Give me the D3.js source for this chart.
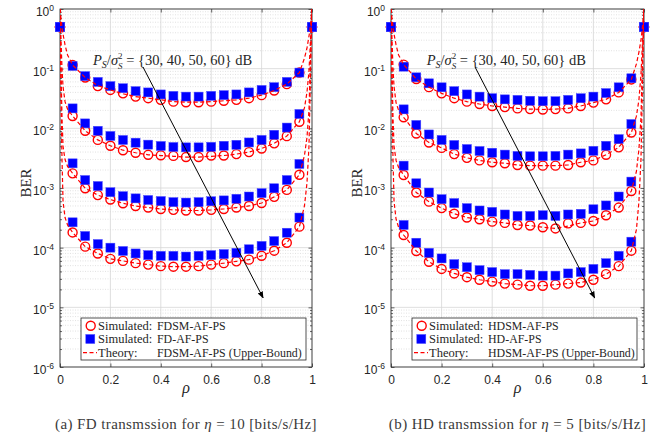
<!DOCTYPE html>
<html>
<head>
<meta charset="utf-8">
<script src="https://cdn.jsdelivr.net/npm/d3@7"></script>
<style>
  body { margin: 0; background: #fff; }
  svg { display: block; }
</style>
</head>
<body>
<div id="chart"></div>
<script>
// power splitting ratio used for the simulated points
const rho = [0, 0.05, 0.1, 0.15, 0.2, 0.25, 0.3, 0.35, 0.4, 0.45, 0.5,
             0.55, 0.6, 0.65, 0.7, 0.75, 0.8, 0.85, 0.9, 0.95, 1];

// finer grid for the theory (upper bound) curves
const thRho = [0, 0.004, 0.008, 0.012, 0.02, 0.03,
               0.05, 0.1, 0.15, 0.2, 0.25, 0.3, 0.35, 0.4, 0.45, 0.5,
               0.55, 0.6, 0.65, 0.7, 0.75, 0.8, 0.85, 0.9, 0.95,
               0.97, 0.98, 0.988, 0.992, 0.996, 1];

// ---- (a) FD, eta = 10 ----
const fdsm30 = [0.5, 0.115, 0.071, 0.051, 0.044, 0.0386, 0.034, 0.032, 0.030, 0.028, 0.0273, 0.0273, 0.028, 0.029, 0.030, 0.032, 0.036, 0.043, 0.055, 0.086, 0.5];
const fdsm40 = [0.5, 0.0161, 0.0091, 0.0064, 0.0051, 0.0043, 0.0039, 0.0036, 0.00353, 0.00345, 0.0033, 0.0033, 0.0035, 0.0035, 0.0037, 0.0040, 0.0046, 0.0056, 0.0074, 0.0129, 0.5];
const fdsm50 = [0.5, 0.00176, 0.00099, 0.00076, 0.00064, 0.000554, 0.0005, 0.00047, 0.000445, 0.00043, 0.00042, 0.00042, 0.00043, 0.000445, 0.00047, 0.0005, 0.00056, 0.00071, 0.00093, 0.00167, 0.5];
const fdsm60 = [0.5, 1.8e-4, 1.04e-4, 8.0e-5, 6.5e-5, 6.0e-5, 5.5e-5, 5.2e-5, 4.9e-5, 4.8e-5, 4.8e-5, 4.9e-5, 5.2e-5, 5.5e-5, 5.9e-5, 6.3e-5, 7.3e-5, 8.9e-5, 1.21e-4, 2.25e-4, 0.5];

const fd30 = [0.5, 0.111, 0.075, 0.060, 0.051, 0.047, 0.042, 0.040, 0.037, 0.035, 0.034, 0.034, 0.035, 0.036, 0.037, 0.040, 0.044, 0.049, 0.060, 0.086, 0.5];
const fd40 = [0.5, 0.0216, 0.0121, 0.0091, 0.00745, 0.00638, 0.00575, 0.00533, 0.00506, 0.00487, 0.0048, 0.0048, 0.0049, 0.0051, 0.0053, 0.0058, 0.0064, 0.0078, 0.0103, 0.0174, 0.5];
const fd50 = [0.5, 0.00259, 0.00136, 0.00108, 0.00085, 0.00073, 0.00067, 0.00063, 0.000605, 0.00058, 0.00057, 0.00058, 0.0006, 0.00062, 0.00066, 0.00072, 0.00082, 0.00099, 0.00136, 0.00253, 0.5];
const fd60 = [0.5, 2.66e-4, 1.57e-4, 1.15e-4, 1.0e-4, 8.8e-5, 8.0e-5, 7.5e-5, 7.3e-5, 7.3e-5, 7.1e-5, 7.3e-5, 7.5e-5, 7.8e-5, 8.2e-5, 9.4e-5, 1.07e-4, 1.29e-4, 1.78e-4, 3.2e-4, 0.5];

const fdsmTh30 = [1, 0.7, 0.5, 0.38, 0.25, 0.17, 0.115, 0.071, 0.052, 0.044, 0.038, 0.034, 0.032, 0.030, 0.028, 0.0275, 0.0275, 0.028, 0.029, 0.030, 0.032, 0.036, 0.043, 0.055, 0.086, 0.15, 0.22, 0.35, 0.45, 0.65, 1];
const fdsmTh40 = [1, 0.3, 0.1, 0.05, 0.028, 0.021, 0.0161, 0.0091, 0.0064, 0.0051, 0.0043, 0.0039, 0.0036, 0.0035, 0.0034, 0.0033, 0.0033, 0.0034, 0.0035, 0.0037, 0.0040, 0.0046, 0.0056, 0.0074, 0.0129, 0.022, 0.04, 0.09, 0.2, 0.45, 1];
const fdsmTh50 = [1, 0.1, 0.015, 0.005, 0.003, 0.0023, 0.00176, 0.00099, 0.00076, 0.00064, 0.000554, 0.0005, 0.00047, 0.000445, 0.00043, 0.00042, 0.00042, 0.00043, 0.000445, 0.00047, 0.0005, 0.00056, 0.00071, 0.00093, 0.00167, 0.0035, 0.007, 0.02, 0.08, 0.3, 1];
const fdsmTh60 = [1, 0.03, 0.003, 0.0006, 0.00032, 0.00024, 1.8e-4, 1.04e-4, 8.0e-5, 6.5e-5, 6.0e-5, 5.5e-5, 5.2e-5, 4.9e-5, 4.8e-5, 4.8e-5, 4.9e-5, 5.2e-5, 5.5e-5, 5.9e-5, 6.3e-5, 7.3e-5, 8.9e-5, 1.21e-4, 2.25e-4, 0.0005, 0.0012, 0.005, 0.03, 0.2, 1];

// ---- (b) HD, eta = 5 ----
const hdsm30 = [0.5, 0.117, 0.067, 0.049, 0.0386, 0.032, 0.028, 0.0256, 0.0237, 0.0227, 0.0216, 0.021, 0.0207, 0.021, 0.0216, 0.0237, 0.027, 0.0306, 0.040, 0.066, 0.5];
const hdsm40 = [0.5, 0.0153, 0.0082, 0.0058, 0.0047, 0.0037, 0.0032, 0.0029, 0.0027, 0.0026, 0.00243, 0.00237, 0.00237, 0.00237, 0.00243, 0.0027, 0.0029, 0.0036, 0.0048, 0.0085, 0.5];
const hdsm50 = [0.5, 0.00165, 0.00084, 0.00059, 0.00046, 0.00037, 0.00032, 0.0003, 0.000273, 0.00026, 0.00024, 0.000235, 0.00022, 0.00021, 0.000255, 0.00026, 0.00028, 0.00035, 0.00047, 0.00089, 0.5];
const hdsm60 = [0.5, 1.63e-4, 8.8e-5, 5.8e-5, 4.4e-5, 3.7e-5, 3.2e-5, 2.9e-5, 2.7e-5, 2.5e-5, 2.4e-5, 2.3e-5, 2.3e-5, 2.4e-5, 2.5e-5, 2.6e-5, 2.9e-5, 3.6e-5, 4.9e-5, 8.9e-5, 0.5];

const hd30 = [0.5, 0.108, 0.0716, 0.0568, 0.0487, 0.042, 0.037, 0.034, 0.032, 0.0306, 0.030, 0.029, 0.0285, 0.0285, 0.030, 0.032, 0.034, 0.039, 0.0487, 0.069, 0.5];
const hd40 = [0.5, 0.0208, 0.0114, 0.0079, 0.0064, 0.00526, 0.0045, 0.00417, 0.0039, 0.00363, 0.00345, 0.0034, 0.0034, 0.00345, 0.00363, 0.0038, 0.0042, 0.0051, 0.0066, 0.0118, 0.5];
const hd50 = [0.5, 0.00237, 0.0012, 0.00084, 0.00065, 0.00056, 0.00046, 0.00042, 0.000398, 0.00036, 0.00034, 0.00034, 0.00035, 0.00034, 0.00036, 0.00037, 0.00044, 0.00051, 0.00072, 0.00128, 0.5];
const hd60 = [0.5, 2.4e-4, 1.21e-4, 8.2e-5, 6.6e-5, 5.3e-5, 4.7e-5, 4.2e-5, 3.9e-5, 3.6e-5, 3.6e-5, 3.5e-5, 3.4e-5, 3.4e-5, 3.7e-5, 3.9e-5, 4.4e-5, 5.5e-5, 7.3e-5, 1.26e-4, 0.5];

const hdsmTh30 = [1, 0.7, 0.5, 0.38, 0.25, 0.17, 0.117, 0.067, 0.049, 0.0386, 0.032, 0.028, 0.0256, 0.0237, 0.0227, 0.0216, 0.021, 0.0207, 0.021, 0.0216, 0.0237, 0.027, 0.0306, 0.040, 0.066, 0.12, 0.19, 0.3, 0.42, 0.62, 1];
const hdsmTh40 = [1, 0.3, 0.1, 0.05, 0.027, 0.02, 0.0153, 0.0082, 0.0058, 0.0047, 0.0037, 0.0032, 0.0029, 0.0027, 0.0026, 0.00243, 0.00237, 0.00237, 0.00237, 0.00243, 0.0027, 0.0029, 0.0036, 0.0048, 0.0085, 0.016, 0.03, 0.08, 0.18, 0.42, 1];
const hdsmTh50 = [1, 0.1, 0.015, 0.005, 0.0029, 0.0022, 0.00165, 0.00084, 0.00059, 0.00046, 0.00037, 0.00032, 0.0003, 0.000273, 0.00026, 0.00024, 0.000235, 0.00022, 0.00021, 0.00023, 0.00026, 0.00028, 0.00035, 0.00047, 0.00089, 0.0019, 0.0045, 0.015, 0.07, 0.28, 1];
const hdsmTh60 = [1, 0.03, 0.003, 0.0006, 0.0003, 0.00022, 1.63e-4, 8.8e-5, 5.8e-5, 4.4e-5, 3.7e-5, 3.2e-5, 2.9e-5, 2.7e-5, 2.5e-5, 2.4e-5, 2.3e-5, 2.3e-5, 2.4e-5, 2.5e-5, 2.6e-5, 2.9e-5, 3.6e-5, 4.9e-5, 8.9e-5, 0.0002, 0.0006, 0.003, 0.02, 0.18, 1];

const xTicks = [0, 0.2, 0.4, 0.6, 0.8, 1];
const decades = [-6, -5, -4, -3, -2, -1, 0];

const serif = "'Liberation Serif', 'Times New Roman', serif";
const sans = "'Liberation Sans', Arial, Helvetica, sans-serif";

const panels = [
  {
    left: 60, right: 312,
    circles: [fdsm30, fdsm40, fdsm50, fdsm60],
    squares: [fd30, fd40, fd50, fd60],
    theory: [fdsmTh30, fdsmTh40, fdsmTh50, fdsmTh60],
    names: ["FDSM-AF-PS", "FD-AF-PS", "FDSM-AF-PS (Upper-Bound)"],
    caption: ["(a) FD transmssion for ", "η", " = 10 [bits/s/Hz]"],
    annot: [0.131, 0.115],
    arrow: [[0.329, 0.107], [0.806, 1.44e-5]]
  },
  {
    left: 391, right: 644,
    circles: [hdsm30, hdsm40, hdsm50, hdsm60],
    squares: [hd30, hd40, hd50, hd60],
    theory: [hdsmTh30, hdsmTh40, hdsmTh50, hdsmTh60],
    names: ["HDSM-AF-PS", "HD-AF-PS", "HDSM-AF-PS (Upper-Bound)"],
    caption: ["(b) HD transmssion for ", "η", " = 5 [bits/s/Hz]"],
    annot: [0.141, 0.115],
    arrow: [[0.332, 0.107], [0.805, 1.44e-5]]
  }
];

const plotTop = 9, plotBottom = 367;

const svg = d3.select("#chart")
  .append("svg")
    .attr("width", 659)
    .attr("height", 443);

const defs = svg.append("defs");
defs.append("marker")
    .attr("id", "arrowhead")
    .attr("viewBox", "0 0 10 10")
    .attr("refX", 9).attr("refY", 5)
    .attr("markerWidth", 7).attr("markerHeight", 7)
    .attr("markerUnits", "userSpaceOnUse")
    .attr("orient", "auto")
  .append("path")
    .attr("d", "M0,1 L10,5 L0,9 Z")
    .attr("fill", "#000");

panels.forEach((p, pi) => {
  const x = d3.scaleLinear().domain([0, 1]).range([p.left, p.right]);
  const y = d3.scaleLog().domain([1e-6, 1]).range([plotBottom, plotTop]);
  const g = svg.append("g");

  defs.append("clipPath").attr("id", "clip" + pi)
    .append("rect")
      .attr("x", p.left).attr("y", plotTop)
      .attr("width", p.right - p.left).attr("height", plotBottom - plotTop);

  // minor grid (dotted)
  const minors = [];
  decades.slice(0, -1).forEach(d => {
    for (let k = 2; k <= 9; k++) minors.push(k * Math.pow(10, d));
  });
  g.append("g").selectAll("line")
    .data(minors)
    .join("line")
      .attr("x1", p.left).attr("x2", p.right)
      .attr("y1", d => y(d)).attr("y2", d => y(d))
      .attr("stroke", "#cfcfcf")
      .attr("stroke-width", 0.6)
      .attr("stroke-dasharray", "1,1.5");

  // major grid
  g.append("g").selectAll("line")
    .data(decades)
    .join("line")
      .attr("x1", p.left).attr("x2", p.right)
      .attr("y1", d => y(Math.pow(10, d))).attr("y2", d => y(Math.pow(10, d)))
      .attr("stroke", "#d6d6d6").attr("stroke-width", 0.8);
  g.append("g").selectAll("line")
    .data(xTicks)
    .join("line")
      .attr("x1", d => x(d)).attr("x2", d => x(d))
      .attr("y1", plotTop).attr("y2", plotBottom)
      .attr("stroke", "#d6d6d6").attr("stroke-width", 0.8);

  // axes with inward ticks on all four sides
  const xAxisB = d3.axisBottom(x).tickValues(xTicks).tickSize(-3.5).tickPadding(8)
    .tickFormat(d => String(+d.toFixed(1)));
  const gx = g.append("g").attr("transform", `translate(0,${plotBottom})`).call(xAxisB);
  gx.selectAll("text").attr("font-family", sans).attr("font-size", 12).attr("fill", "#262626");
  g.append("g").attr("transform", `translate(0,${plotTop})`)
    .call(d3.axisTop(x).tickValues(xTicks).tickSize(-3.5).tickFormat(""));

  const yAxisL = d3.axisLeft(y).tickValues(decades.map(d => Math.pow(10, d))).tickSize(-3.5).tickFormat("");
  g.append("g").attr("transform", `translate(${p.left},0)`).call(yAxisL);
  g.append("g").attr("transform", `translate(${p.left},0)`)
    .call(d3.axisLeft(y).tickValues(minors).tickSize(-2).tickFormat(""));
  g.append("g").attr("transform", `translate(${p.right},0)`)
    .call(d3.axisRight(y).tickValues(decades.map(d => Math.pow(10, d))).tickSize(-3.5).tickFormat(""));
  g.append("g").attr("transform", `translate(${p.right},0)`)
    .call(d3.axisRight(y).tickValues(minors).tickSize(-2).tickFormat(""));
  g.selectAll(".domain").remove();
  g.selectAll(".tick line").attr("stroke", "#262626").attr("stroke-width", 0.7);

  g.append("rect")
    .attr("x", p.left).attr("y", plotTop)
    .attr("width", p.right - p.left).attr("height", plotBottom - plotTop)
    .attr("fill", "none").attr("stroke", "#262626").attr("stroke-width", 0.8);

  // y tick labels 10^k
  g.append("g").selectAll("text")
    .data(decades)
    .join("text")
      .attr("x", p.left - 6)
      .attr("y", d => y(Math.pow(10, d)) + 7)
      .attr("text-anchor", "end")
      .attr("font-family", sans)
      .attr("font-size", 12)
      .attr("fill", "#262626")
      .each(function(d) {
        const t = d3.select(this);
        t.append("tspan").text("10");
        t.append("tspan").attr("dy", -5).attr("font-size", 8.5).text(d);
      });

  // axis labels
  g.append("text")
    .attr("transform", `translate(${p.left - 29},${(plotTop + plotBottom) / 2 - 5}) rotate(-90)`)
    .attr("text-anchor", "middle")
    .attr("font-family", serif).attr("font-size", 15)
    .attr("fill", "#262626")
    .text("BER");
  g.append("text")
    .attr("x", (p.left + p.right) / 2).attr("y", 393)
    .attr("text-anchor", "middle")
    .attr("font-family", serif).attr("font-size", 16).attr("font-style", "italic")
    .attr("fill", "#262626")
    .text("ρ");

  // simulated circles
  p.circles.forEach(series => {
    g.append("g").selectAll("circle")
      .data(series)
      .join("circle")
        .attr("cx", (d, i) => x(rho[i]))
        .attr("cy", d => y(d))
        .attr("r", 4.5)
        .attr("fill", "none")
        .attr("stroke", "#ff0000")
        .attr("stroke-width", 1.4);
  });

  // simulated squares
  const sq = 9;
  p.squares.forEach(series => {
    g.append("g").selectAll("rect")
      .data(series)
      .join("rect")
        .attr("x", (d, i) => x(rho[i]) - sq / 2)
        .attr("y", d => y(d) - sq / 2)
        .attr("width", sq).attr("height", sq)
        .attr("fill", "#0000ff")
        .attr("stroke", "#4a4aff")
        .attr("stroke-width", 0.5);
  });

  // theory curves
  const line = d3.line()
    .x((d, i) => x(thRho[i]))
    .y(d => y(d));
  p.theory.forEach(series => {
    g.append("path")
      .datum(series)
      .attr("clip-path", `url(#clip${pi})`)
      .attr("d", line)
      .attr("fill", "none")
      .attr("stroke", "#ff0000")
      .attr("stroke-width", 1.2)
      .attr("stroke-dasharray", "4,2.5");
  });

  // annotation text and arrow
  const ann = g.append("text")
    .attr("x", x(p.annot[0])).attr("y", y(p.annot[1]))
    .attr("font-family", serif).attr("font-size", 14.5)
    .attr("fill", "#262626");
  ann.append("tspan").attr("font-style", "italic").text("P");
  ann.append("tspan").attr("font-style", "italic").attr("font-size", 10).attr("dy", 3).text("S");
  ann.append("tspan").attr("dy", -3).text("/");
  ann.append("tspan").attr("font-style", "italic").text("σ");
  ann.append("tspan").attr("font-size", 9).attr("dy", -6.5).text("2");
  ann.append("tspan").attr("font-style", "italic").attr("font-size", 9).attr("dx", -4.5).attr("dy", 10.5).text("S");
  ann.append("tspan").attr("dy", -4).text(" = {30, 40, 50, 60} dB");

  g.append("line")
    .attr("x1", x(p.arrow[0][0])).attr("y1", y(p.arrow[0][1]))
    .attr("x2", x(p.arrow[1][0])).attr("y2", y(p.arrow[1][1]))
    .attr("stroke", "#000").attr("stroke-width", 1)
    .attr("marker-end", "url(#arrowhead)");

  // legend
  const lx = p.left + 21, ly = 318, lw = 225, lh = 42;
  const lg = g.append("g");
  lg.append("rect")
    .attr("x", lx).attr("y", ly).attr("width", lw).attr("height", lh)
    .attr("fill", "#fff").attr("stroke", "#262626").attr("stroke-width", 0.8);
  const rows = [ly + 7.7, ly + 21, ly + 34.7];
  lg.append("circle")
    .attr("cx", lx + 9.7).attr("cy", rows[0]).attr("r", 4.5)
    .attr("fill", "none").attr("stroke", "#ff0000").attr("stroke-width", 1.4);
  lg.append("rect")
    .attr("x", lx + 9.3 - sq / 2).attr("y", rows[1] - sq / 2)
    .attr("width", sq).attr("height", sq)
    .attr("fill", "#0000ff").attr("stroke", "#4a4aff").attr("stroke-width", 0.5);
  lg.append("line")
    .attr("x1", lx + 2).attr("x2", lx + 16)
    .attr("y1", rows[2]).attr("y2", rows[2])
    .attr("stroke", "#ff0000").attr("stroke-width", 1.2).attr("stroke-dasharray", "4,2.5");
  const labels1 = ["Simulated:", "Simulated:", "Theory:"];
  labels1.forEach((t, i) => {
    lg.append("text")
      .attr("x", lx + 17).attr("y", rows[i] + 4)
      .attr("font-family", serif).attr("font-size", 12.5).attr("fill", "#262626")
      .text(t);
    lg.append("text")
      .attr("x", lx + 76).attr("y", rows[i] + 4)
      .attr("font-family", serif).attr("font-size", 11.9).attr("fill", "#262626")
      .text(p.names[i]);
  });

  // caption
  const cap = g.append("text")
    .attr("x", (p.left + p.right) / 2).attr("y", 429)
    .attr("text-anchor", "middle")
    .attr("font-family", serif).attr("font-size", 15)
    .attr("letter-spacing", 0.4)
    .attr("fill", "#3a3a3a");
  cap.append("tspan").text(p.caption[0]);
  cap.append("tspan").attr("font-style", "italic").text(p.caption[1]);
  cap.append("tspan").text(p.caption[2]);
});
</script>
</body>
</html>
